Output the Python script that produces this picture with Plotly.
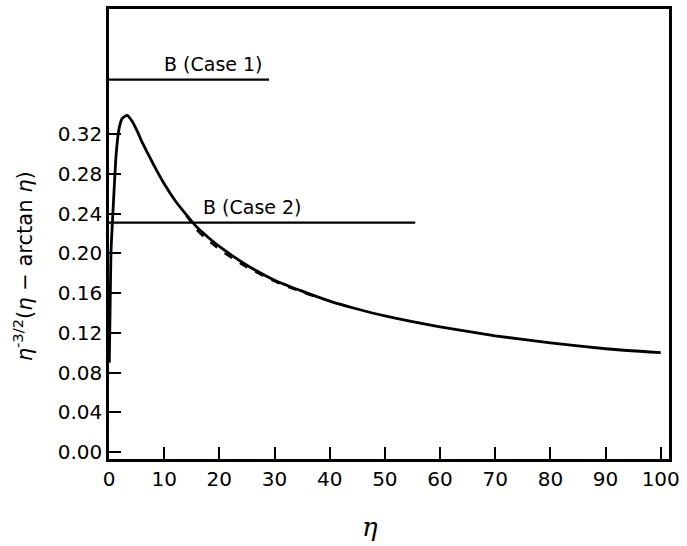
import plotly.graph_objects as go

# Solid curve: eta^{-3/2}(eta - arctan eta)
eta_solid = [0.05, 0.35, 0.7, 1.3, 1.8, 2.4, 3.3, 4.3, 5.2, 6, 7, 8, 10, 12, 14, 15.2, 16, 18,
             20, 25, 30, 35, 40, 45, 50, 60, 70, 80, 90, 100]
val_solid = [0.090, 0.200, 0.240, 0.300, 0.325, 0.336, 0.339, 0.332, 0.322, 0.312, 0.301, 0.290,
             0.270, 0.253, 0.239, 0.231, 0.226, 0.216, 0.207, 0.188, 0.173, 0.162, 0.152,
             0.144, 0.137, 0.126, 0.117, 0.110, 0.104, 0.100]

# Dashed approximation (visible slightly below the solid curve)
eta_dash = [14, 15.2, 16, 18, 20, 25, 30, 35, 40, 45]
val_dash = [0.238, 0.229, 0.223, 0.213, 0.204, 0.186, 0.172, 0.161, 0.152, 0.144]

# Horizontal reference levels
case_labels = ["B (Case 1)", "B (Case 2)"]
case_values = [0.375, 0.231]
case_ends = [29, 55.5]
case_label_x = [19, 26]

x_ticks = [0, 10, 20, 30, 40, 50, 60, 70, 80, 90, 100]
y_ticks = [0.00, 0.04, 0.08, 0.12, 0.16, 0.20, 0.24, 0.28, 0.32]

FONT = "DejaVu Sans"

fig = go.Figure()
fig.add_trace(go.Scatter(x=eta_solid, y=val_solid, mode="lines",
                         line=dict(color="black", width=2.8, shape="spline", smoothing=0.5),
                         showlegend=False))
fig.add_trace(go.Scatter(x=eta_dash, y=val_dash, mode="lines",
                         line=dict(color="black", width=2.2, dash="dash", shape="spline"),
                         showlegend=False))
for lab, v, e, lx in zip(case_labels, case_values, case_ends, case_label_x):
    fig.add_trace(go.Scatter(x=[0, e], y=[v, v], mode="lines",
                             line=dict(color="black", width=2.2), showlegend=False))
    fig.add_annotation(x=lx, y=v, text=lab, showarrow=False, yanchor="bottom", yshift=3,
                       font=dict(family=FONT, size=19, color="black"))

fig.update_xaxes(range=[0, 101.5], tickvals=x_ticks, ticktext=[str(t) for t in x_ticks],
                 ticks="inside", ticklen=12, tickwidth=2, tickcolor="black",
                 showline=True, linecolor="black", linewidth=2.5, mirror=True,
                 showgrid=False, zeroline=False,
                 tickfont=dict(family=FONT, size=20, color="black"))
fig.update_yaxes(range=[-0.007, 0.446], tickvals=y_ticks,
                 ticktext=[f"{t:.2f}" for t in y_ticks],
                 ticks="inside", ticklen=12, tickwidth=2, tickcolor="black",
                 showline=True, linecolor="black", linewidth=2.5, mirror=True,
                 showgrid=False, zeroline=False,
                 tickfont=dict(family=FONT, size=20, color="black"))

fig.add_annotation(xref="paper", yref="paper", x=-0.152, y=0.428, textangle=-90,
                   xanchor="center", yanchor="middle",
                   text="<i>η</i><sup>-3/2</sup>(<i>η</i> − arctan <i>η</i>)", showarrow=False,
                   font=dict(family=FONT, size=21, color="black"))
fig.add_annotation(xref="paper", yref="paper", x=0.466, y=-0.15, yanchor="middle",
                   text="<i>η</i>", showarrow=False,
                   font=dict(family="DejaVu Serif", size=26, color="black"))

fig.update_layout(width=687, height=546, plot_bgcolor="white", paper_bgcolor="white",
                  margin=dict(l=109, r=18, t=6, b=87))
fig.write_html("out.html", config={"displayModeBar": False},
               post_script="document.body.style.margin='0px';")
